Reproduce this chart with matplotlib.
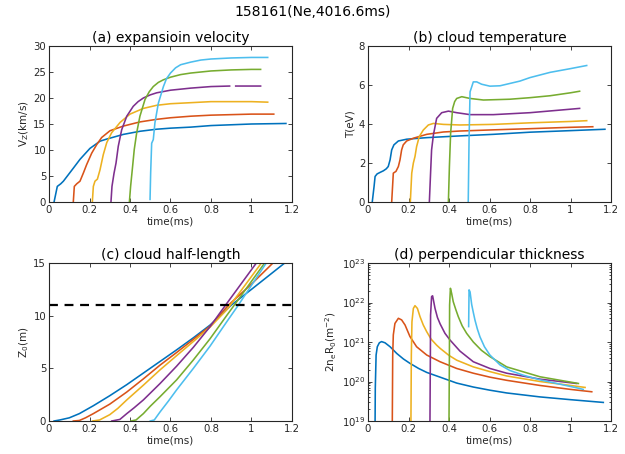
import numpy as np
import matplotlib
matplotlib.use('Agg')
import matplotlib.pyplot as plt
from matplotlib.ticker import LogLocator, NullFormatter

# MATLAB default colour order, one per pellet (blue..cyan)
colors = ['#0072BD', '#D95319', '#EDB120', '#7E2F8E', '#77AC30', '#4DBEEE']

# (a) expansion velocity V_Z (km/s)
va_t = [
    [0.025, 0.041, 0.058, 0.071, 0.12, 0.153, 0.202, 0.252, 0.285, 0.367, 0.449, 0.532, 0.6, 0.7, 0.8, 1.0, 1.17],
    [0.12, 0.125, 0.137, 0.153, 0.17, 0.186, 0.211, 0.235, 0.26, 0.301, 0.367, 0.449, 0.532, 0.6, 0.7, 0.8, 1.0, 1.11],
    [0.214, 0.219, 0.227, 0.239, 0.252, 0.268, 0.285, 0.309, 0.351, 0.4, 0.466, 0.532, 0.6, 0.7, 0.8, 1.0, 1.08],
    [0.306, 0.311, 0.321, 0.331, 0.342, 0.359, 0.384, 0.416, 0.44, 0.466, 0.5, 0.532, 0.6, 0.7, 0.8, 0.892, np.nan, 0.922, 1.045],
    [0.397, 0.403, 0.413, 0.421, 0.433, 0.449, 0.474, 0.495, 0.515, 0.54, 0.565, 0.6, 0.65, 0.7, 0.8, 0.9, 1.0, 1.045],
    [0.499, 0.502, 0.507, 0.515, 0.523, 0.54, 0.565, 0.58, 0.6, 0.625, 0.65, 0.7, 0.75, 0.8, 0.9, 1.0, 1.08],
]
va_v = [
    [0.0, 3.0, 3.5, 4.0, 6.5, 8.2, 10.3, 11.7, 12.1, 13.0, 13.6, 14.0, 14.2, 14.4, 14.7, 15.0, 15.1],
    [0.0, 3.0, 3.5, 4.0, 5.6, 7.2, 9.4, 11.0, 12.4, 13.7, 14.6, 15.4, 15.9, 16.2, 16.5, 16.7, 16.9, 16.9],
    [0.0, 3.0, 4.0, 4.4, 6.2, 9.1, 11.4, 13.3, 15.3, 16.9, 18.0, 18.6, 18.9, 19.1, 19.3, 19.3, 19.2],
    [0.0, 3.0, 5.5, 7.5, 10.7, 13.9, 16.5, 18.4, 19.3, 20.0, 20.6, 21.0, 21.5, 21.9, 22.2, 22.3, np.nan, 22.3, 22.3],
    [0.0, 3.0, 6.9, 10.1, 13.3, 16.5, 19.7, 21.2, 22.2, 23.0, 23.5, 24.0, 24.5, 24.8, 25.2, 25.4, 25.5, 25.5],
    [0.5, 5.6, 11.3, 12.0, 15.2, 19.0, 22.2, 23.7, 24.8, 25.8, 26.4, 26.9, 27.3, 27.5, 27.7, 27.8, 27.8],
]

# (b) cloud temperature T (eV)
tb_t = [
    [0.021, 0.03, 0.035, 0.045, 0.06, 0.076, 0.09, 0.1, 0.109, 0.117, 0.128, 0.15, 0.191, 0.29, 0.454, 0.619, 0.8, 1.0, 1.17],
    [0.117, 0.125, 0.138, 0.15, 0.158, 0.166, 0.174, 0.191, 0.224, 0.29, 0.372, 0.454, 0.619, 0.8, 1.0, 1.11],
    [0.209, 0.216, 0.224, 0.232, 0.24, 0.253, 0.273, 0.298, 0.323, 0.372, 0.454, 0.619, 0.8, 1.0, 1.08],
    [0.303, 0.309, 0.314, 0.323, 0.339, 0.364, 0.397, 0.438, 0.504, 0.619, 0.8, 1.045],
    [0.397, 0.402, 0.408, 0.418, 0.428, 0.438, 0.463, 0.504, 0.57, 0.7, 0.8, 0.9, 1.0, 1.045],
    [0.495, 0.499, 0.504, 0.512, 0.52, 0.537, 0.561, 0.602, 0.652, 0.701, 0.75, 0.8, 0.9, 1.0, 1.08],
]
tb_v = [
    [0.0, 0.8, 1.31, 1.44, 1.52, 1.6, 1.7, 1.82, 2.16, 2.67, 2.93, 3.13, 3.22, 3.3, 3.39, 3.47, 3.58, 3.66, 3.73],
    [0.0, 1.48, 1.57, 1.82, 2.16, 2.67, 2.93, 3.13, 3.27, 3.47, 3.59, 3.64, 3.7, 3.76, 3.83, 3.86],
    [0.0, 1.48, 2.0, 2.33, 2.84, 3.35, 3.69, 3.95, 4.03, 3.98, 3.95, 3.98, 4.06, 4.13, 4.17],
    [0.0, 1.48, 2.67, 3.44, 4.29, 4.58, 4.66, 4.58, 4.48, 4.48, 4.58, 4.8],
    [0.0, 1.82, 3.52, 4.8, 5.15, 5.31, 5.4, 5.31, 5.23, 5.27, 5.35, 5.45, 5.6, 5.68],
    [0.0, 3.18, 5.65, 5.9, 6.16, 6.16, 6.04, 5.94, 5.96, 6.08, 6.2, 6.38, 6.65, 6.84, 7.0],
]

# (c) cloud half-length Z0 (m)
zc_t = [
    [0.025, 0.054, 0.1, 0.15, 0.219, 0.3, 0.384, 0.466, 0.548, 0.63, 0.713, 0.795, 0.9, 1.0, 1.164],
    [0.12, 0.15, 0.18, 0.219, 0.3, 0.384, 0.466, 0.548, 0.63, 0.713, 0.795, 0.886, 1.0, 1.106],
    [0.215, 0.25, 0.3, 0.34, 0.384, 0.466, 0.548, 0.63, 0.713, 0.795, 0.88, 1.049],
    [0.31, 0.35, 0.384, 0.42, 0.466, 0.548, 0.63, 0.713, 0.795, 0.87, 1.024],
    [0.405, 0.43, 0.466, 0.5, 0.548, 0.63, 0.713, 0.795, 0.877, 0.915, 1.065],
    [0.5, 0.52, 0.548, 0.59, 0.63, 0.713, 0.795, 0.877, 0.935, 1.073],
]
zc_v = [
    [0.0, 0.1, 0.3, 0.7, 1.45, 2.4, 3.45, 4.55, 5.65, 6.75, 7.9, 9.1, 11.0, 12.5, 15.0],
    [0.0, 0.05, 0.3, 0.7, 1.6, 2.75, 4.0, 5.3, 6.5, 7.75, 9.0, 11.0, 13.0, 15.0],
    [0.0, 0.1, 0.6, 1.2, 2.0, 3.4, 4.85, 6.2, 7.55, 8.9, 10.6, 15.0],
    [0.0, 0.15, 0.7, 1.25, 2.0, 3.55, 5.2, 7.0, 8.95, 10.95, 15.0],
    [0.0, 0.1, 0.7, 1.4, 2.3, 3.9, 5.8, 7.8, 10.0, 11.0, 15.0],
    [0.0, 0.1, 0.85, 1.9, 2.95, 5.0, 7.1, 9.4, 11.0, 15.0],
]
z_limit = 11.0

# (d) perpendicular thickness, log10 of 2 n_e R_0 (m^-2)
nd_t = [
    [0.035, 0.036, 0.04, 0.046, 0.056, 0.067, 0.084, 0.109, 0.142, 0.175, 0.207, 0.25, 0.29, 0.356, 0.438, 0.52, 0.602, 0.685, 0.849, 1.0, 1.162],
    [0.12, 0.122, 0.125, 0.133, 0.15, 0.166, 0.183, 0.207, 0.24, 0.29, 0.356, 0.438, 0.52, 0.602, 0.685, 0.849, 1.0, 1.105],
    [0.212, 0.214, 0.217, 0.224, 0.232, 0.244, 0.257, 0.273, 0.29, 0.312, 0.339, 0.356, 0.4, 0.438, 0.52, 0.602, 0.685, 0.849, 1.0, 1.072],
    [0.306, 0.308, 0.309, 0.314, 0.319, 0.331, 0.343, 0.356, 0.38, 0.405, 0.454, 0.52, 0.602, 0.685, 0.849, 1.03],
    [0.4, 0.402, 0.403, 0.407, 0.413, 0.421, 0.433, 0.446, 0.465, 0.487, 0.52, 0.56, 0.602, 0.685, 0.849, 1.039],
    [0.497, 0.499, 0.504, 0.512, 0.52, 0.528, 0.54, 0.553, 0.575, 0.602, 0.652, 0.7, 0.767, 0.85, 0.932, 1.039, 1.063],
]
nd_log = [
    [19.0, 19.83, 20.67, 20.88, 20.98, 21.01, 20.98, 20.88, 20.71, 20.57, 20.46, 20.33, 20.23, 20.11, 19.96, 19.86, 19.78, 19.71, 19.61, 19.54, 19.47],
    [19.0, 20.67, 21.18, 21.47, 21.6, 21.56, 21.43, 21.14, 20.88, 20.67, 20.5, 20.33, 20.21, 20.11, 20.03, 19.9, 19.8, 19.74],
    [19.0, 20.67, 21.51, 21.85, 21.92, 21.85, 21.64, 21.43, 21.26, 21.07, 20.92, 20.84, 20.66, 20.54, 20.37, 20.25, 20.14, 20.0, 19.9, 19.85],
    [19.0, 20.67, 21.68, 22.15, 22.17, 21.85, 21.62, 21.46, 21.22, 21.05, 20.77, 20.5, 20.33, 20.21, 20.06, 19.95],
    [19.0, 20.67, 21.94, 22.36, 22.23, 22.02, 21.83, 21.64, 21.41, 21.22, 21.0, 20.79, 20.63, 20.37, 20.12, 19.95],
    [21.39, 22.32, 22.27, 21.95, 21.75, 21.56, 21.33, 21.13, 20.88, 20.67, 20.42, 20.28, 20.16, 20.04, 19.95, 19.83, 19.8],
]

xticks = [0, 0.2, 0.4, 0.6, 0.8, 1.0, 1.2]
xticklabels = ['0', '0.2', '0.4', '0.6', '0.8', '1', '1.2']

plt.rcParams['font.family'] = 'DejaVu Sans'
plt.rcParams['mathtext.default'] = 'regular'
axcol = '#262626'

fig = plt.figure(figsize=(6.25, 4.54), dpi=100)
W, H = 625., 454.
def box(l, t, r, b):
    return [l/W, 1-b/H, (r-l)/W, (b-t)/H]

ax_a = fig.add_axes(box(49, 46, 292, 202))
ax_b = fig.add_axes(box(368, 46, 611, 202))
ax_c = fig.add_axes(box(49, 263, 292, 421))
ax_d = fig.add_axes(box(368, 263, 611, 421))

lw = 1.15
for k in range(6):
    ax_a.plot(va_t[k], va_v[k], color=colors[k], lw=lw)
    ax_b.plot(tb_t[k], tb_v[k], color=colors[k], lw=lw)
    ax_c.plot(zc_t[k], zc_v[k], color=colors[k], lw=lw)
    ax_d.plot(nd_t[k], 10.0**np.array(nd_log[k]), color=colors[k], lw=lw)
ax_c.axhline(z_limit, color='k', lw=1.6, ls=(0, (4, 3)))

ax_d.set_yscale('log')
ax_d.set_ylim(1e19, 1e23)
ax_d.yaxis.set_major_locator(LogLocator(base=10, numticks=10))
ax_d.yaxis.set_minor_locator(LogLocator(base=10, subs=np.arange(2, 10), numticks=20))
ax_d.yaxis.set_minor_formatter(NullFormatter())

ax_a.set_ylim(0, 30)
ax_a.set_yticks([0, 5, 10, 15, 20, 25, 30])
ax_b.set_ylim(0, 8)
ax_b.set_yticks([0, 2, 4, 6, 8])
ax_c.set_ylim(0, 15)
ax_c.set_yticks([0, 5, 10, 15])

titles = ['(a) expansioin velocity', '(b) cloud temperature',
          '(c) cloud half-length', '(d) perpendicular thickness']
ylabels = ['V$_Z$(km/s)', 'T(eV)', 'Z$_0$(m)', '2n$_e$R$_0$(m$^{-2}$)']
for ax, ttl, yl in zip([ax_a, ax_b, ax_c, ax_d], titles, ylabels):
    ax.set_xlim(0, 1.2)
    ax.set_xticks(xticks)
    ax.set_xticklabels(xticklabels)
    ax.set_title(ttl, fontsize=10, pad=3, color='k')
    ax.set_xlabel('time(ms)', fontsize=7.5, color=axcol, labelpad=1)
    ax.set_ylabel(yl, fontsize=7.5, color=axcol, labelpad=2)
    ax.tick_params(which='both', direction='in', top=True, right=True,
                   labelsize=7.3, colors=axcol, width=0.6, pad=2)
    ax.tick_params(which='major', length=3)
    ax.tick_params(which='minor', length=1.5)
    for s in ax.spines.values():
        s.set_color(axcol)
        s.set_linewidth(0.8)

fig.text(0.5, 1-12/H, '158161(Ne,4016.6ms)', ha='center', va='center', fontsize=10)

fig.savefig('out.png', dpi=100)
